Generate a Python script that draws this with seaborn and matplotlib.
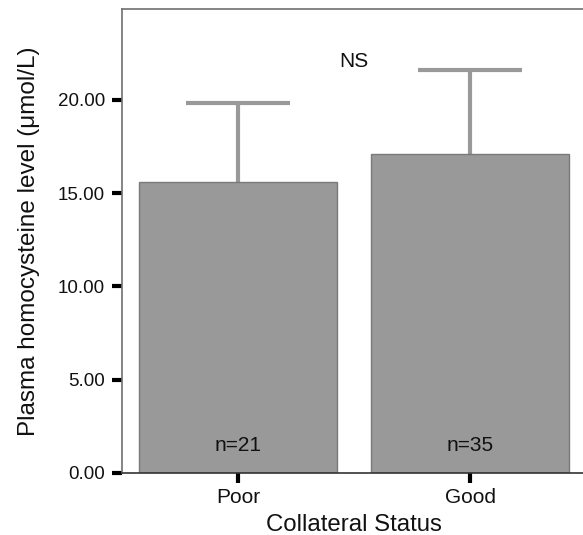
import matplotlib
matplotlib.use("Agg")
import matplotlib.pyplot as plt
import seaborn as sns
import pandas as pd

categories = ["Poor", "Good"]
means = [15.62, 17.10]
upper = [19.86, 21.61]
n_labels = ["n=21", "n=35"]
yticks = [0, 5, 10, 15, 20]
ytick_labels = ["0.00", "5.00", "10.00", "15.00", "20.00"]

sns.set_theme(style="white")
plt.rcParams["font.family"] = ["Liberation Sans", "DejaVu Sans"]

df = pd.DataFrame({"status": categories, "level": means})

fig = plt.figure(figsize=(5.83, 5.35), dpi=100)
ax = fig.add_axes([0.2088, 0.1159, 0.7967, 0.8673])

sns.barplot(data=df, x="status", y="level", order=categories, color="#999999",
            width=0.85, edgecolor="#7a7a7a", linewidth=1.0, saturation=1,
            errorbar=None, ax=ax, zorder=2)

xs = list(range(len(categories)))
cap = 0.224
ax.vlines(xs, means, upper, colors="#999999", linewidth=3, zorder=1)
ax.hlines(upper, [x - cap for x in xs], [x + cap for x in xs], colors="#999999",
          linewidth=3, zorder=1)

for i, lab in enumerate(n_labels):
    ax.text(i, 1.45, lab, ha="center", va="center", fontsize=15, color="#111111", zorder=3)

ax.text(0.5, 22.04, "NS", ha="center", va="center", fontsize=15, color="#111111")

ax.set_xlim(-0.5, 1.5)
ax.set_ylim(0, 24.88)
ax.set_yticks(yticks)
ax.set_yticklabels(ytick_labels)

ax.tick_params(axis="both", which="both", direction="out", length=7, width=3,
               color="black", labelcolor="#111111", pad=5, left=True, bottom=True)
ax.tick_params(axis="y", labelsize=13.5)
ax.tick_params(axis="x", labelsize=15, pad=4)
ax.set_xlabel("Collateral Status", fontsize=17.3, color="#111111", labelpad=5)
ax.set_ylabel("Plasma homocysteine level (\u03bcmol/L)", fontsize=17.5, color="#111111",
              labelpad=13)

for s in ["left", "top"]:
    ax.spines[s].set_color("#707070")
    ax.spines[s].set_linewidth(1.2)
ax.spines["bottom"].set_color("#333333")
ax.spines["bottom"].set_linewidth(1.2)
ax.spines["right"].set_visible(False)

fig.savefig("out.png", dpi=100)
